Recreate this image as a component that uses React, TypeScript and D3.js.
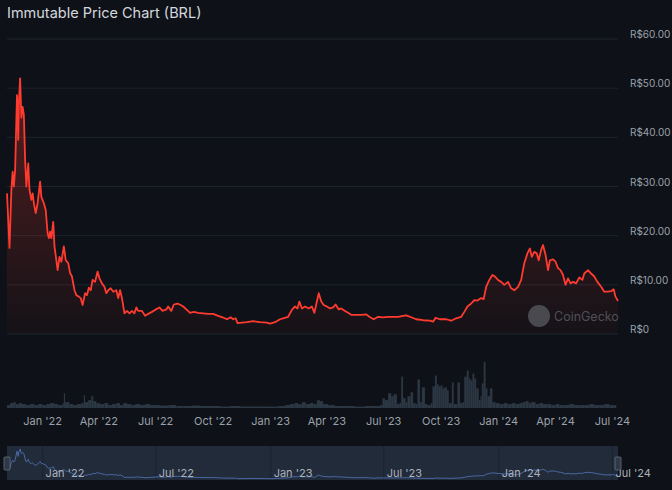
import React, { useEffect, useRef } from 'react'
import * as d3 from 'd3'

// price in BRL
const priceDates = [
  '2021-11-05', '2021-11-09', '2021-11-12', '2021-11-14', '2021-11-16', '2021-11-18', '2021-11-21', '2021-11-23',
  '2021-11-24', '2021-11-26', '2021-11-28', '2021-11-30', '2021-12-02', '2021-12-04', '2021-12-06', '2021-12-09',
  '2021-12-11', '2021-12-14', '2021-12-16', '2021-12-18', '2021-12-21', '2021-12-24', '2021-12-28', '2021-12-30',
  '2022-01-03', '2022-01-06', '2022-01-09', '2022-01-11', '2022-01-13', '2022-01-15', '2022-01-18', '2022-01-20',
  '2022-01-23', '2022-01-25', '2022-01-28', '2022-01-31', '2022-02-04', '2022-02-07', '2022-02-11', '2022-02-14',
  '2022-02-17', '2022-02-21', '2022-02-24', '2022-02-28', '2022-03-03', '2022-03-06', '2022-03-10', '2022-03-13',
  '2022-03-16', '2022-03-19', '2022-03-22', '2022-03-26', '2022-03-30', '2022-04-02', '2022-04-06', '2022-04-10',
  '2022-04-13', '2022-04-16', '2022-04-20', '2022-04-24', '2022-04-29', '2022-05-02', '2022-05-05', '2022-05-08',
  '2022-05-12', '2022-05-16', '2022-05-20', '2022-05-24', '2022-05-28', '2022-05-31', '2022-06-03', '2022-06-09',
  '2022-06-14', '2022-06-19', '2022-06-25', '2022-06-30', '2022-07-07', '2022-07-12', '2022-07-18', '2022-07-21',
  '2022-07-26', '2022-07-30', '2022-08-05', '2022-08-10', '2022-08-14', '2022-08-20', '2022-08-25', '2022-08-31',
  '2022-09-07', '2022-09-15', '2022-09-23', '2022-10-01', '2022-10-09', '2022-10-16', '2022-10-23', '2022-10-29',
  '2022-11-02', '2022-11-06', '2022-11-09', '2022-11-16', '2022-11-24', '2022-12-04', '2022-12-15', '2022-12-26',
  '2022-12-31', '2023-01-08', '2023-01-16', '2023-01-21', '2023-01-29', '2023-02-04', '2023-02-09', '2023-02-13',
  '2023-02-16', '2023-02-20', '2023-02-25', '2023-03-03', '2023-03-08', '2023-03-12', '2023-03-16', '2023-03-19',
  '2023-03-23', '2023-03-27', '2023-04-01', '2023-04-06', '2023-04-11', '2023-04-15', '2023-04-20', '2023-04-24',
  '2023-04-30', '2023-05-05', '2023-05-10', '2023-05-18', '2023-05-26', '2023-06-03', '2023-06-08', '2023-06-15',
  '2023-06-22', '2023-06-30', '2023-07-08', '2023-07-16', '2023-07-24', '2023-08-01', '2023-08-06', '2023-08-14',
  '2023-08-22', '2023-09-02', '2023-09-13', '2023-09-18', '2023-09-22', '2023-09-29', '2023-10-09', '2023-10-17',
  '2023-10-25', '2023-11-02', '2023-11-07', '2023-11-12', '2023-11-18', '2023-11-23', '2023-11-28', '2023-12-04',
  '2023-12-08', '2023-12-12', '2023-12-17', '2023-12-22', '2023-12-25', '2023-12-31', '2024-01-05', '2024-01-10',
  '2024-01-16', '2024-01-21', '2024-01-26', '2024-02-01', '2024-02-06', '2024-02-11', '2024-02-16', '2024-02-20',
  '2024-02-23', '2024-02-27', '2024-03-02', '2024-03-05', '2024-03-09', '2024-03-12', '2024-03-16', '2024-03-20',
  '2024-03-23', '2024-03-28', '2024-04-01', '2024-04-05', '2024-04-09', '2024-04-13', '2024-04-17', '2024-04-21',
  '2024-04-25', '2024-04-29', '2024-05-04', '2024-05-09', '2024-05-14', '2024-05-17', '2024-05-23', '2024-05-28',
  '2024-06-02', '2024-06-07', '2024-06-13', '2024-06-18', '2024-06-23', '2024-06-29', '2024-07-03', '2024-07-06',
  '2024-07-10',
]
const prices = [
  28.6, 17.5, 29.3, 33, 30, 33.4, 48.6, 39.5,
  47, 52, 44, 46.2, 44.5, 35.4, 30, 34.7,
  29.3, 27.3, 28.6, 26.6, 24.6, 26.6, 31, 27.9,
  26.6, 25.2, 20.5, 19.5, 20.8, 19.5, 22.8, 17.8,
  15, 13, 15.7, 14.7, 17.8, 15, 14.4, 12.4,
  11.7, 8.9, 7.9, 7.6, 7.3, 5.9, 8.3, 7.9,
  9.4, 8.9, 11, 10.6, 12.7, 11.3, 10.3, 9.6,
  8.3, 8.9, 9.3, 8.6, 8.9, 7.3, 8.9, 7.3,
  4.2, 4.7, 4.2, 4.7, 4.2, 5.4, 4.7, 4.7,
  3.7, 4.1, 4.5, 4.9, 5.4, 4.7, 5.0, 5.6,
  4.7, 6.0, 6.2, 5.9, 5.6, 4.9, 4.3, 4.5,
  4.3, 4.2, 4.1, 4.1, 3.7, 3.4, 3.0, 3.4,
  3.0, 3.2, 2.2, 2.3, 2.4, 2.6, 2.4, 2.3,
  2.1, 2.4, 3.0, 3.2, 3.5, 4.9, 5.6, 5.2,
  6.6, 5.2, 5.6, 5.2, 5.6, 4.3, 6.6, 8.3,
  6.6, 5.9, 5.6, 5.2, 5.4, 6.0, 5.0, 5.2,
  4.7, 4.3, 3.9, 3.9, 3.9, 4.0, 3.5, 3.0,
  3.5, 3.4, 3.5, 3.5, 3.5, 3.7, 3.8, 3.4,
  3.0, 2.8, 2.7, 2.5, 3.3, 3.0, 3.0, 2.7,
  3.2, 3.5, 4.5, 5.6, 6.2, 6.9, 6.8, 7.3,
  7.1, 9.6, 11.0, 12.0, 11.8, 11.0, 10.6, 10.0,
  10.6, 9.3, 8.9, 9.6, 11.0, 14.4, 16.4, 17.4,
  15.7, 16.7, 16.4, 15.0, 17.1, 18.1, 16.1, 13.0,
  15.0, 15.2, 14.7, 13.4, 13.0, 12.0, 10.0, 11.3,
  10.3, 10.6, 10.3, 11.5, 11.0, 12.3, 13.0, 12.3,
  11.7, 10.6, 9.6, 8.6, 8.6, 8.7, 9.1, 7.6,
  6.7,
]

// 24h volume, R$ millions
const volumeDates = [
  '2021-11-05', '2021-11-10', '2021-11-15', '2021-11-19', '2021-11-24', '2021-11-29', '2021-12-06', '2021-12-12',
  '2021-12-19', '2021-12-25', '2022-01-01', '2022-01-07', '2022-01-13', '2022-01-20', '2022-01-26', '2022-02-02',
  '2022-02-04', '2022-02-06', '2022-02-13', '2022-02-19', '2022-02-25', '2022-03-04', '2022-03-08', '2022-03-10',
  '2022-03-15', '2022-03-20', '2022-03-23', '2022-03-28', '2022-04-03', '2022-04-10', '2022-04-16', '2022-04-22',
  '2022-04-29', '2022-05-05', '2022-05-10', '2022-05-16', '2022-05-23', '2022-05-29', '2022-06-06', '2022-06-14',
  '2022-06-22', '2022-06-30', '2022-07-08', '2022-07-21', '2022-08-03', '2022-08-15', '2022-08-28', '2022-09-10',
  '2022-09-26', '2022-10-12', '2022-10-28', '2022-11-13', '2022-11-29', '2022-12-15', '2022-12-31', '2023-01-13',
  '2023-01-24', '2023-02-01', '2023-02-08', '2023-02-14', '2023-02-20', '2023-02-26', '2023-03-05', '2023-03-11',
  '2023-03-16', '2023-03-21', '2023-03-26', '2023-04-03', '2023-04-14', '2023-04-30', '2023-05-16', '2023-06-01',
  '2023-06-17', '2023-06-25', '2023-06-29', '2023-07-03', '2023-07-08', '2023-07-13', '2023-07-17', '2023-07-22',
  '2023-07-26', '2023-07-29', '2023-08-01', '2023-08-05', '2023-08-08', '2023-08-13', '2023-08-17', '2023-08-21',
  '2023-08-24', '2023-08-28', '2023-08-31', '2023-09-05', '2023-09-09', '2023-09-14', '2023-09-17', '2023-09-21',
  '2023-09-24', '2023-09-27', '2023-09-30', '2023-10-03', '2023-10-06', '2023-10-10', '2023-10-13', '2023-10-18',
  '2023-10-21', '2023-10-27', '2023-10-31', '2023-11-04', '2023-11-07', '2023-11-11', '2023-11-14', '2023-11-17',
  '2023-11-20', '2023-11-23', '2023-11-26', '2023-11-30', '2023-12-03', '2023-12-05', '2023-12-08', '2023-12-11',
  '2023-12-14', '2023-12-18', '2023-12-22', '2023-12-27', '2024-01-02', '2024-01-09', '2024-01-15', '2024-01-22',
  '2024-01-28', '2024-02-03', '2024-02-08', '2024-02-13', '2024-02-18', '2024-02-22', '2024-02-29', '2024-03-06',
  '2024-03-12', '2024-03-19', '2024-03-25', '2024-04-01', '2024-04-07', '2024-04-15', '2024-04-23', '2024-05-01',
  '2024-05-09', '2024-05-17', '2024-05-25', '2024-06-02', '2024-06-10', '2024-06-18', '2024-06-26', '2024-07-04',
]
const volumes = [
  30, 50, 60, 40, 50, 40, 30, 40,
  30, 40, 30, 40, 50, 40, 30, 50,
  150, 60, 40, 30, 40, 50, 130, 60,
  80, 120, 70, 50, 40, 50, 30, 40,
  50, 30, 50, 40, 30, 40, 30, 40,
  30, 30, 25, 30, 20, 20, 25, 20,
  20, 15, 20, 15, 15, 15, 15, 20,
  30, 40, 50, 40, 60, 40, 50, 40,
  80, 70, 40, 30, 20, 20, 15, 20,
  20, 30, 100, 80, 150, 120, 140, 40,
  50, 320, 100, 60, 120, 160, 50, 40,
  290, 60, 210, 40, 30, 50, 220, 330,
  240, 220, 230, 200, 210, 180, 50, 260,
  40, 260, 50, 60, 320, 380, 300, 280,
  350, 300, 200, 80, 120, 250, 470, 200,
  120, 200, 60, 50, 40, 50, 40, 50,
  40, 50, 60, 70, 50, 60, 40, 50,
  40, 40, 30, 40, 30, 30, 40, 30,
  30, 30, 40, 30, 30, 40, 30, 30,
]

const mainTickLabels = ["Jan '22", "Apr '22", "Jul '22", "Oct '22", "Jan '23", "Apr '23", "Jul '23", "Oct '23", "Jan '24", "Apr '24", "Jul '24"]
const navTickLabels = ["Jan '22", "Jul '22", "Jan '23", "Jul '23", "Jan '24", "Jul '24"]
const priceTicks = [0, 10, 20, 30, 40, 50, 60]

const W = 672
const H = 490
const FONT = "Inter, 'Noto Sans', sans-serif"

export default function App() {
  const svgRef = useRef<SVGSVGElement>(null)

  useEffect(() => {
    if (!svgRef.current) return
    const svg = d3.select(svgRef.current)
    svg.selectAll('*').remove()

    const parse = d3.utcParse('%Y-%m-%d')
    const fmt = d3.utcFormat("%b '%y")
    const pricePoints = priceDates.map((d, i) => ({ date: parse(d) as Date, value: prices[i] }))
    const volPoints = volumeDates.map((d, i) => ({ date: parse(d) as Date, value: volumes[i] }))

    const x = d3.scaleUtc()
      .domain([pricePoints[0].date, pricePoints[pricePoints.length - 1].date])
      .range([7, 618])
    const y = d3.scaleLinear().domain([0, 60]).range([334, 39])
    const yVol = d3.scaleLinear().domain([0, 600]).range([408, 349])
    const yNav = d3.scaleLinear().domain([0, 52]).range([480, 449])

    svg.append('rect').attr('width', W).attr('height', H).attr('fill', '#0e1117')

    const defs = svg.append('defs')
    const grad = defs.append('linearGradient')
      .attr('id', 'priceFill')
      .attr('gradientUnits', 'userSpaceOnUse')
      .attr('x1', 0).attr('x2', 0).attr('y1', y(52)).attr('y2', y(0))
    grad.append('stop').attr('offset', 0).attr('stop-color', '#ff3b30').attr('stop-opacity', 0.3)
    grad.append('stop').attr('offset', 1).attr('stop-color', '#ff3b30').attr('stop-opacity', 0.03)

    // title
    svg.append('text')
      .attr('x', 7).attr('y', 18)
      .attr('fill', '#d4d8de')
      .style('font-family', FONT)
      .style('font-size', '14.5px')
      .text('Immutable Price Chart (BRL)')

    // grid + y labels
    svg.selectAll('.grid-y')
      .data(priceTicks)
      .enter()
      .append('line')
      .attr('x1', 7).attr('x2', 618)
      .attr('y1', d => y(d)).attr('y2', d => y(d))
      .attr('stroke', '#1d2430')
      .attr('stroke-width', 1)

    svg.selectAll('.y-label')
      .data(priceTicks)
      .enter()
      .append('text')
      .attr('x', 630)
      .attr('y', d => y(d) - 1)
      .attr('fill', '#9aa1ab')
      .style('font-family', FONT)
      .style('font-size', '10px')
      .text(d => d === 0 ? 'R$0' : `R$${d.toFixed(2)}`)

    // volume bars
    svg.selectAll('.vol')
      .data(volPoints)
      .enter()
      .append('rect')
      .attr('x', d => x(d.date))
      .attr('width', (d, i) => {
        const next = volPoints[i + 1]
        return next ? Math.max(1, x(next.date) - x(d.date)) : 2
      })
      .attr('y', d => yVol(d.value))
      .attr('height', d => yVol(0) - yVol(d.value))
      .attr('fill', '#2c3744')

    // price area + line
    const area = d3.area<{ date: Date; value: number }>()
      .x(d => x(d.date))
      .y0(y(0))
      .y1(d => y(d.value))
    const line = d3.line<{ date: Date; value: number }>()
      .x(d => x(d.date))
      .y(d => y(d.value))

    svg.append('path').datum(pricePoints).attr('d', area).attr('fill', 'url(#priceFill)')
    svg.append('path').datum(pricePoints)
      .attr('d', line)
      .attr('fill', 'none')
      .attr('stroke', '#ff3b30')
      .attr('stroke-width', 1.8)
      .attr('stroke-linejoin', 'round')

    // watermark
    svg.append('circle').attr('cx', 539).attr('cy', 316).attr('r', 11).attr('fill', '#55585d').attr('opacity', 0.8)
    svg.append('text')
      .attr('x', 554).attr('y', 320.5)
      .attr('fill', '#4d5056')
      .style('font-family', FONT)
      .style('font-size', '12.5px')
      .text('CoinGecko')

    // x axis labels
    const mainTicks = x.ticks(d3.utcMonth.every(3) as d3.TimeInterval)
    svg.selectAll('.x-label')
      .data(mainTicks)
      .enter()
      .append('text')
      .attr('x', d => x(d))
      .attr('y', 425)
      .attr('text-anchor', 'middle')
      .attr('fill', '#9aa1ab')
      .style('font-family', FONT)
      .style('font-size', '11px')
      .text((d, i) => mainTickLabels[i] ?? fmt(d))

    // navigator
    svg.append('rect')
      .attr('x', 7).attr('y', 446)
      .attr('width', 611).attr('height', 34)
      .attr('fill', '#26303f')
      .attr('opacity', 0.85)

    const navTicks = x.ticks(d3.utcMonth.every(6) as d3.TimeInterval)
    svg.selectAll('.nav-grid')
      .data(navTicks)
      .enter()
      .append('line')
      .attr('x1', d => x(d)).attr('x2', d => x(d))
      .attr('y1', 446).attr('y2', 480)
      .attr('stroke', '#1c2330')

    const navLine = d3.line<{ date: Date; value: number }>()
      .x(d => x(d.date))
      .y(d => yNav(d.value))
    svg.append('path').datum(pricePoints)
      .attr('d', navLine)
      .attr('fill', 'none')
      .attr('stroke', '#4a68a3')
      .attr('stroke-width', 1)

    svg.selectAll('.nav-label')
      .data(navTicks)
      .enter()
      .append('text')
      .attr('x', d => x(d) + 3)
      .attr('y', 477)
      .attr('fill', '#aab2be')
      .style('font-family', FONT)
      .style('font-size', '11px')
      .text((d, i) => navTickLabels[i] ?? fmt(d))

    // handles
    ;[7, 618].forEach(hx => {
      svg.append('rect')
        .attr('x', hx - 3).attr('y', 457)
        .attr('width', 6).attr('height', 13)
        .attr('rx', 1)
        .attr('fill', '#2f3846')
        .attr('stroke', '#66707e')
        .attr('stroke-width', 0.8)
    })
  }, [])

  return (
    <svg
      ref={svgRef}
      width={W}
      height={H}
      style={{ position: 'absolute', left: 0, top: 0, display: 'block' }}
    />
  )
}
